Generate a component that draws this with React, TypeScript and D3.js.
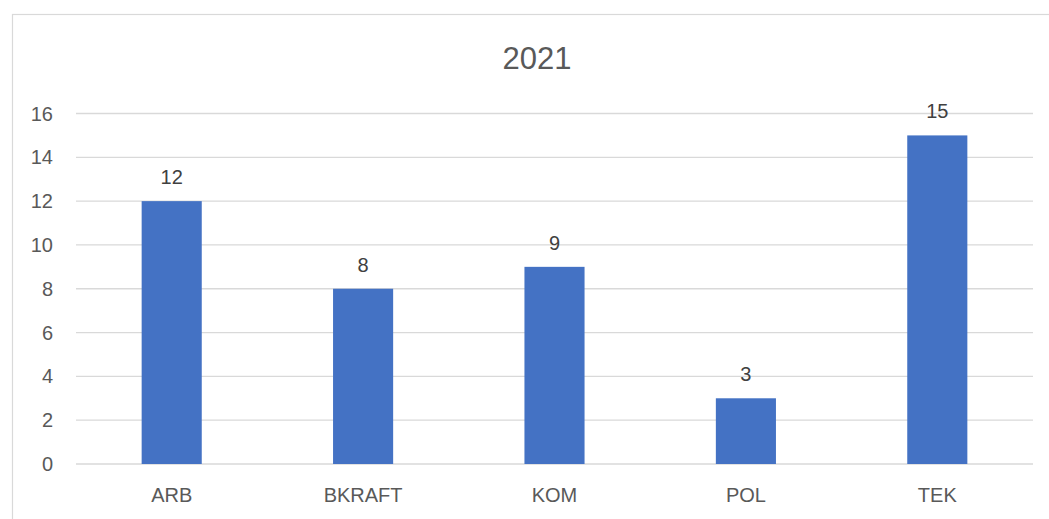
import React, { useRef, useEffect } from 'react';
import * as d3 from 'd3';

const categories = ['ARB', 'BKRAFT', 'KOM', 'POL', 'TEK'];
const values = [12, 8, 9, 3, 15];
const yTicks = [0, 2, 4, 6, 8, 10, 12, 14, 16];
const title = '2021';

export default function App() {
  const svgRef = useRef<SVGSVGElement>(null);

  useEffect(() => {
    const svg = d3.select(svgRef.current);
    svg.selectAll('*').remove();

    const width = 1049;
    const height = 519;
    const font = "'Liberation Sans', Arial, sans-serif";

    // chart frame (cropped at right and bottom)
    svg.append('rect')
      .attr('x', 12.5)
      .attr('y', 14.5)
      .attr('width', width)
      .attr('height', height)
      .attr('fill', '#fff')
      .attr('stroke', '#d9d9d9')
      .attr('stroke-width', 1.2);

    const x = d3.scaleBand<string>()
      .domain(categories)
      .range([76, 1033])
      .paddingInner(0.686)
      .paddingOuter(0.343);

    const y = d3.scaleLinear()
      .domain([0, 16])
      .range([464, 113.5]);

    svg.append('text')
      .attr('x', 537)
      .attr('y', 69)
      .attr('text-anchor', 'middle')
      .attr('font-family', font)
      .attr('font-size', 31)
      .attr('fill', '#595959')
      .text(title);

    const grid = svg.append('g');
    grid.selectAll('line')
      .data(yTicks)
      .enter()
      .append('line')
      .attr('x1', 76)
      .attr('x2', 1033)
      .attr('y1', d => y(d))
      .attr('y2', d => y(d))
      .attr('stroke', '#d9d9d9')
      .attr('stroke-width', 1.3);

    grid.selectAll('text')
      .data(yTicks)
      .enter()
      .append('text')
      .attr('x', 53)
      .attr('y', d => y(d) + 7)
      .attr('text-anchor', 'end')
      .attr('font-family', font)
      .attr('font-size', 20)
      .attr('fill', '#595959')
      .text(d => d);

    const bars = svg.append('g');
    bars.selectAll('rect')
      .data(values)
      .enter()
      .append('rect')
      .attr('x', (d, i) => x(categories[i])!)
      .attr('y', d => y(d))
      .attr('width', x.bandwidth())
      .attr('height', d => y(0) - y(d))
      .attr('fill', '#4472c4');

    bars.selectAll('text')
      .data(values)
      .enter()
      .append('text')
      .attr('x', (d, i) => x(categories[i])! + x.bandwidth() / 2)
      .attr('y', d => y(d) - 17)
      .attr('text-anchor', 'middle')
      .attr('font-family', font)
      .attr('font-size', 20)
      .attr('fill', '#404040')
      .text(d => d);

    svg.append('g')
      .selectAll('text')
      .data(categories)
      .enter()
      .append('text')
      .attr('x', d => x(d)! + x.bandwidth() / 2)
      .attr('y', 502)
      .attr('text-anchor', 'middle')
      .attr('font-family', font)
      .attr('font-size', 20)
      .attr('fill', '#595959')
      .text(d => d);
  }, []);

  return (
    <svg
      ref={svgRef}
      width={1049}
      height={519}
      style={{ position: 'absolute', left: 0, top: 0, display: 'block' }}
    />
  );
}
